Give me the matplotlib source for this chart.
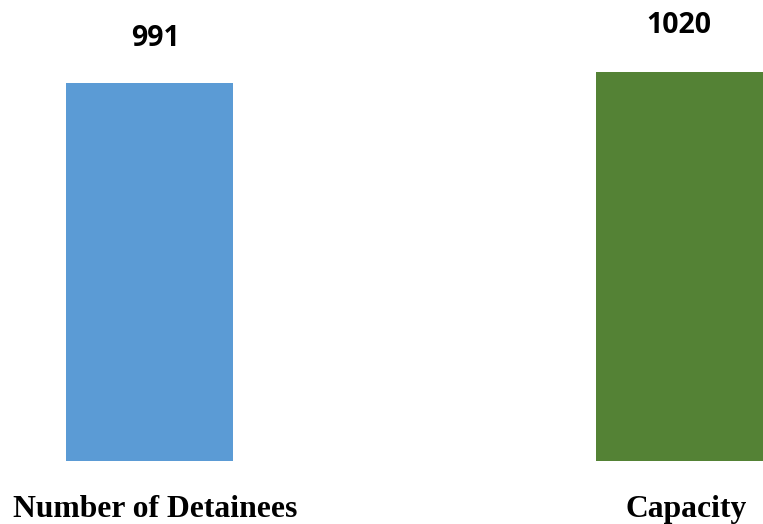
import matplotlib
matplotlib.use("Agg")
import matplotlib.pyplot as plt

categories = ["Number of Detainees", "Capacity"]
values = [991, 1020]
colors = ["#5B9BD5", "#548235"]

fig = plt.figure(figsize=(7.63, 5.24), dpi=100)
ax = fig.add_axes([0, 0, 1, 1])
x = [0, 1]
ax.bar(x, values, width=0.315, color=colors)
ax.set_xlim(-0.2818, 1.1565)
ax.set_ylim(-165.2, 1208.7)
ax.axis("off")

label_dx = [0.011, -0.002]
label_dy = [80, 84]
for xi, v, dx, dy in zip(x, values, label_dx, label_dy):
    ax.text(xi + dx, v + dy, str(v), ha="center", va="bottom",
            fontsize=20.5, fontweight="bold", family="Open Sans")

cat_dx = [0.011, 0.012]
for xi, c, dx in zip(x, categories, cat_dx):
    ax.text(xi + dx, -128, c, ha="center", va="center",
            fontsize=22.8, fontweight="bold", family="Liberation Serif")

fig.savefig("out.png", dpi=100)
